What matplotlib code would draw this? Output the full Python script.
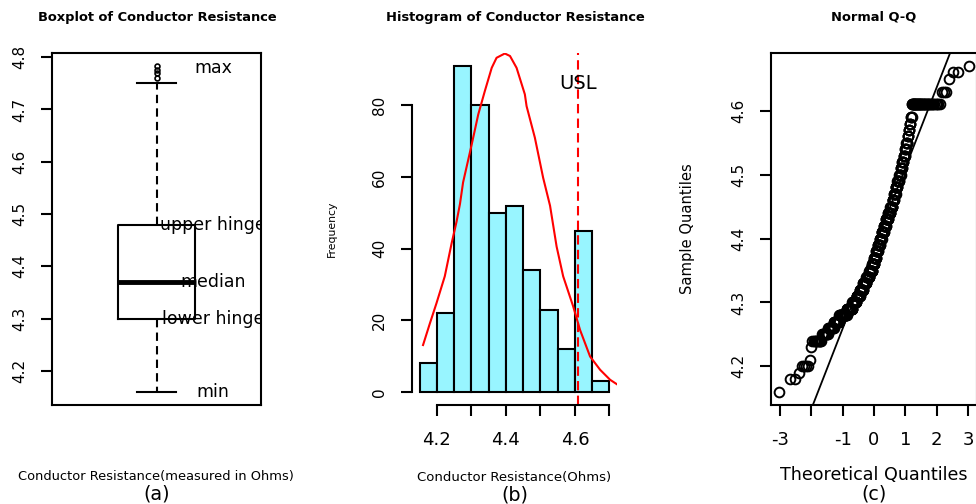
import matplotlib
matplotlib.use("Agg")
import matplotlib.pyplot as plt
import numpy as np
from statistics import NormalDist

#### plotting parameters ###
plt.rcParams['font.family'] = 'DejaVu Sans'
plt.rcParams['axes.unicode_minus'] = False
plt.rcParams['axes.linewidth'] = 1.5
plt.rcParams['xtick.major.width'] = 1.5
plt.rcParams['ytick.major.width'] = 1.5
plt.rcParams['xtick.major.size'] = 8
plt.rcParams['ytick.major.size'] = 8

# (a) boxplot summary of conductor resistance
box_min = 4.16
box_q1 = 4.30
box_med = 4.37
box_q3 = 4.48
box_max = 4.75
box_out = [4.76, 4.77, 4.776, 4.783]
box_names = ["max", "upper hinge", "median", "lower hinge", "min"]
box_name_vals = [4.78, 4.48, 4.37, 4.30, 4.16]
box_yticks = [4.2, 4.3, 4.4, 4.5, 4.6, 4.7, 4.8]

# (b) histogram counts, bin width 0.05
bin_edges = [4.15, 4.20, 4.25, 4.30, 4.35, 4.40, 4.45, 4.50, 4.55, 4.60, 4.65, 4.70]
freq = [8, 22, 91, 80, 50, 52, 34, 23, 12, 45, 3]
curve_x = [4.160, 4.180, 4.199, 4.223, 4.243, 4.257, 4.267, 4.276, 4.301, 4.320,
           4.339, 4.359, 4.373, 4.397, 4.412, 4.431, 4.455, 4.460, 4.484, 4.508,
           4.528, 4.547, 4.566, 4.595, 4.615, 4.644, 4.673, 4.702, 4.729]
curve_y = [13.1, 19.2, 24.8, 32.3, 41.6, 47.5, 52.5, 58.5, 69.1, 77.5,
           84.0, 90.5, 93.3, 94.5, 93.8, 90.5, 83.1, 79.8, 71.0, 59.8,
           52.0, 40.6, 32.3, 23.9, 17.3, 9.9, 6.2, 3.4, 1.7]
usl = 4.61
hist_xticks = [4.2, 4.3, 4.4, 4.5, 4.6, 4.7]
hist_xlabels = ["4.2", "", "4.4", "", "4.6", ""]
hist_yticks = [0, 20, 40, 60, 80]

# (c) measured values and how often each occurs
qq_values = [4.16, 4.18, 4.19, 4.20, 4.21, 4.23, 4.24, 4.25,
             4.26, 4.27, 4.28, 4.29, 4.30,
             4.31, 4.32, 4.33, 4.34, 4.35,
             4.36, 4.37, 4.38, 4.39, 4.40,
             4.41, 4.42, 4.43, 4.44, 4.45,
             4.46, 4.47, 4.48, 4.49, 4.50,
             4.51, 4.52, 4.53, 4.54, 4.55,
             4.56, 4.57, 4.58, 4.59,
             4.61, 4.63, 4.65, 4.66, 4.67]
qq_counts = [1, 2, 1, 4, 1, 1, 10, 10,
             12, 14, 25, 22, 18,
             16, 16, 16, 16, 16,
             10, 10, 10, 10, 10,
             11, 10, 11, 10, 10,
             7, 7, 7, 7, 6,
             5, 5, 5, 4, 4,
             3, 3, 3, 3,
             41, 3, 1, 2, 1]
qq_xticks = [-3, -2, -1, 0, 1, 2, 3]
qq_xlabels = ["-3", "", "-1", "0", "1", "2", "3"]
qq_yticks = [4.2, 4.3, 4.4, 4.5, 4.6]

W, H = 976, 504
fig = plt.figure(figsize=(W / 100, H / 100), dpi=100)


def frame(left, top, right, bottom):
    # axes placed by pixel edges
    return fig.add_axes([left / W, 1 - bottom / H, (right - left) / W, (bottom - top) / H])


def fig_text(x, y, s, **kw):
    fig.text(x / W, 1 - y / H, s, ha='center', va='center', **kw)


def rotate_yticks(ax, size):
    ax.tick_params(axis='y', labelsize=size, labelrotation=90, pad=10)
    for lab in ax.get_yticklabels():
        lab.set_va('center')


# ---- (a) boxplot ----
ax1 = frame(52, 53, 261, 405)
stats = [dict(whislo=box_min, q1=box_q1, med=box_med, q3=box_q3, whishi=box_max, fliers=box_out)]
ax1.bxp(stats, positions=[1], widths=0.364,
        boxprops=dict(color='black', lw=1.5),
        whiskerprops=dict(color='black', lw=1.5, ls=(0, (4, 2.5))),
        capprops=dict(color='black', lw=1.5),
        medianprops=dict(color='black', lw=3.5, solid_capstyle='butt'),
        flierprops=dict(marker='o', markersize=3.5, mfc='none', mec='black', mew=1.2))
for name, val in zip(box_names, box_name_vals):
    ax1.text(1.27, val, name, ha='center', va='center', fontsize=12.5, clip_on=True, zorder=1)
ax1.set_xlim(0.5, 1.5)
ax1.set_ylim(4.135, 4.808)
ax1.set_xticks([])
ax1.set_yticks(box_yticks)
ax1.set_yticklabels([f"{v:.1f}" for v in box_yticks])
rotate_yticks(ax1, 11)

# ---- (b) histogram ----
ax2 = frame(412, 53, 617, 405)
ax2.bar(bin_edges[:-1], freq, width=0.05, align='edge', color='#98F5FF', edgecolor='black', lw=1.5)
ax2.plot(curve_x, curve_y, color='red', lw=1.5)
ax2.axvline(usl, color='red', lw=1.5, ls=(0, (4.5, 2.5)))
ax2.text(usl, 86, "USL", ha='center', va='center', fontsize=14)
ax2.set_xlim(4.128, 4.722)
ax2.set_ylim(-3.64, 94.64)
for side in ['top', 'right']:
    ax2.spines[side].set_visible(False)
ax2.spines['left'].set_bounds(0, 80)
ax2.spines['bottom'].set_bounds(4.2, 4.7)
ax2.set_xticks(hist_xticks)
ax2.set_xticklabels(hist_xlabels)
ax2.tick_params(axis='x', labelsize=13, pad=11)
ax2.set_yticks(hist_yticks)
ax2.set_yticklabels([str(v) for v in hist_yticks])
rotate_yticks(ax2, 11)
ax2.text(-0.39, 0.5, "Frequency", transform=ax2.transAxes, rotation=90,
         ha='center', va='center', fontsize=7.8)

# ---- (c) normal Q-Q ----
ax3 = frame(771, 53, 977, 405)
sample = np.repeat(qq_values, qq_counts)
n = len(sample)
nd = NormalDist()
theo = [nd.inv_cdf((i - 0.5) / n) for i in range(1, n + 1)]
ax3.plot(theo, sample, 'o', mfc='none', mec='black', ms=7, mew=1.4)
q1, q3 = np.quantile(sample, [0.25, 0.75])
z1, z3 = nd.inv_cdf(0.25), nd.inv_cdf(0.75)
slope = (q3 - q1) / (z3 - z1)
ax3.axline((0, q1 - slope * z1), slope=slope, color='black', lw=1.3)
ax3.set_xlim(-3.28, 3.28)
ax3.set_ylim(4.1396, 4.6904)
ax3.set_xticks(qq_xticks)
ax3.set_xticklabels(qq_xlabels)
ax3.tick_params(axis='x', labelsize=13, pad=11)
ax3.set_yticks(qq_yticks)
ax3.set_yticklabels([f"{v:.1f}" for v in qq_yticks])
rotate_yticks(ax3, 11)
ax3.text(-0.405, 0.5, "Sample Quantiles", transform=ax3.transAxes, rotation=90,
         ha='center', va='center', fontsize=10.6)

# titles and captions
fig_text(157, 17.5, "Boxplot of Conductor Resistance", fontsize=9.4, fontweight='bold')
fig_text(515, 17.5, "Histogram of Conductor Resistance", fontsize=9.4, fontweight='bold')
fig_text(874, 17.5, "Normal Q-Q", fontsize=9.4, fontweight='bold')
fig_text(156, 476.5, "Conductor Resistance(measured in Ohms)", fontsize=9.4)
fig_text(157, 493.5, "(a)", fontsize=13.8)
fig_text(514, 477.5, "Conductor Resistance(Ohms)", fontsize=9.5)
fig_text(515, 495, "(b)", fontsize=13.8)
fig_text(874, 475, "Theoretical Quantiles", fontsize=12.6)
fig_text(874, 494.5, "(c)", fontsize=13.8)

fig.savefig("out.png", dpi=100, facecolor='white')
